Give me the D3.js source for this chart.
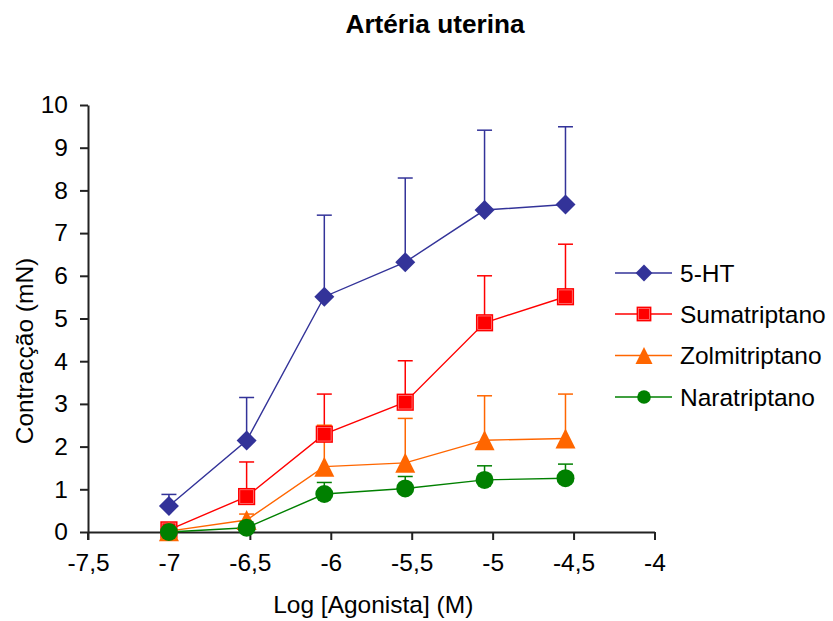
<!DOCTYPE html>
<html>
<head>
<meta charset="utf-8">
<script src="https://cdn.jsdelivr.net/npm/d3@7/dist/d3.min.js"></script>
<style>
  html, body { margin: 0; padding: 0; background: #fff; }
  svg { display: block; font-family: "Liberation Sans", Arial, sans-serif; }
</style>
</head>
<body>
<svg id="chart" width="833" height="621"></svg>
<script>
// Log concentration of agonist (M)
const logDose = [-7, -6.52, -6.04, -5.54, -5.05, -4.55];

// Mean contraction (mN) and error (SEM, upward bars only)
const ht5 = [0.61, 2.14, 5.51, 6.32, 7.54, 7.67];
const ht5Err = [0.27, 1.01, 1.91, 1.97, 1.87, 1.82];

const sumatriptano = [0.05, 0.83, 2.29, 3.04, 4.90, 5.51];
const sumatriptanoErr = [0.05, 0.81, 0.94, 0.97, 1.10, 1.23];

const zolmitriptano = [0.02, 0.28, 1.53, 1.62, 2.15, 2.19];
const zolmitriptanoErr = [0.03, 0.14, 0.97, 1.04, 1.04, 1.04];

const naratriptano = [0.00, 0.10, 0.89, 1.02, 1.22, 1.26];
const naratriptanoErr = [0.00, 0.02, 0.27, 0.28, 0.33, 0.33];

const seriesNames = ["5-HT", "Sumatriptano", "Zolmitriptano", "Naratriptano"];
const xTicks = [-7.5, -7, -6.5, -6, -5.5, -5, -4.5, -4];
const yTicks = [0, 1, 2, 3, 4, 5, 6, 7, 8, 9, 10];

const series = [
  { name: seriesNames[0], values: ht5, err: ht5Err, color: "#333399", shape: "diamond" },
  { name: seriesNames[1], values: sumatriptano, err: sumatriptanoErr, color: "#FF0000", shape: "square" },
  { name: seriesNames[2], values: zolmitriptano, err: zolmitriptanoErr, color: "#FF6600", shape: "triangle" },
  { name: seriesNames[3], values: naratriptano, err: naratriptanoErr, color: "#008000", shape: "circle" }
];

const svg = d3.select("#chart");
const x = d3.scaleLinear().domain([-7.5, -4]).range([88, 654.5]);
const y = d3.scaleLinear().domain([0, 10]).range([532, 105]);
const fmt = d => String(d).replace(".", ",");

// Title
svg.append("text")
  .attr("x", 435).attr("y", 33)
  .attr("text-anchor", "middle")
  .attr("font-size", 26.2).attr("font-weight", "bold")
  .attr("fill", "#000")
  .text("Artéria uterina");

// Axes
const xAxis = svg.append("g").attr("transform", `translate(0,${y(0)})`)
  .call(d3.axisBottom(x).tickValues(xTicks).tickFormat(fmt).tickSize(8).tickPadding(14).tickSizeOuter(0));
const yAxis = svg.append("g").attr("transform", `translate(${x(-7.5)},0)`)
  .call(d3.axisLeft(y).tickValues(yTicks).tickFormat(fmt).tickSize(8).tickPadding(12).tickSizeOuter(0));

[xAxis, yAxis].forEach(g => {
  g.select(".domain").attr("stroke", "#222").attr("stroke-width", 2);
  g.selectAll(".tick line").attr("stroke", "#222").attr("stroke-width", 2);
  g.selectAll(".tick text").attr("font-size", 24.5).attr("fill", "#000")
    .attr("font-family", "'Liberation Sans', Arial, sans-serif");
});
// y axis extends down through the baseline like a tick
yAxis.append("line").attr("x1", 0).attr("x2", 0).attr("y1", y(0)).attr("y2", y(0) + 8)
  .attr("stroke", "#222").attr("stroke-width", 2);

// Axis titles
svg.append("text")
  .attr("x", (x(-7.5) + x(-4)) / 2 + 2).attr("y", 613)
  .attr("text-anchor", "middle").attr("font-size", 24.5).attr("fill", "#000")
  .text("Log [Agonista] (M)");
svg.append("text")
  .attr("transform", `translate(33,351) rotate(-90)`)
  .attr("text-anchor", "middle").attr("font-size", 24.5).attr("fill", "#000")
  .text("Contracção (mN)");

// Marker shapes
function marker(sel, shape, color, s) {
  if (shape === "diamond") {
    sel.append("path").attr("d", `M0,${-s}L${s},0L0,${s}L${-s},0Z`).attr("fill", color);
  } else if (shape === "square") {
    sel.append("rect").attr("x", -s).attr("y", -s).attr("width", 2 * s).attr("height", 2 * s).attr("fill", color);
    sel.append("rect").attr("x", -s + 1.8).attr("y", -s + 1.8).attr("width", 2 * s - 3.6).attr("height", 2 * s - 3.6)
      .attr("fill", "none").attr("stroke", "#fff").attr("stroke-width", 0.7).attr("opacity", 0.55);
  } else if (shape === "triangle") {
    sel.append("path").attr("d", `M0,${-s}L${s},${s}L${-s},${s}Z`).attr("fill", color);
  } else {
    sel.append("circle").attr("r", s).attr("fill", color);
  }
}
const markerSize = { diamond: 10, square: 8.6, triangle: 10, circle: 9 };
const legendSize = { diamond: 8.4, square: 7.4, triangle: 8.5, circle: 6.8 };

const plot = svg.append("g");

// Error bars
series.forEach(s => {
  const g = plot.append("g");
  s.values.forEach((v, i) => {
    const top = v + s.err[i];
    if (s.err[i] <= 0) return;
    g.append("line").attr("x1", x(logDose[i])).attr("x2", x(logDose[i]))
      .attr("y1", y(v)).attr("y2", y(top)).attr("stroke", s.color).attr("stroke-width", 1.5);
    g.append("line").attr("x1", x(logDose[i]) - 7.5).attr("x2", x(logDose[i]) + 7.5)
      .attr("y1", y(top)).attr("y2", y(top)).attr("stroke", s.color).attr("stroke-width", 1.5);
  });
});

// Lines
const line = d3.line().x((d, i) => x(logDose[i])).y(d => y(d));
series.forEach(s => {
  plot.append("path").datum(s.values).attr("d", line)
    .attr("fill", "none").attr("stroke", s.color).attr("stroke-width", 1.4);
});

// Markers
series.forEach(s => {
  s.values.forEach((v, i) => {
    const g = plot.append("g").attr("transform", `translate(${x(logDose[i])},${y(v)})`);
    marker(g, s.shape, s.color, markerSize[s.shape]);
  });
});

// Legend
const legendY = [273, 314, 355.5, 397];
series.forEach((s, k) => {
  const g = svg.append("g").attr("transform", `translate(0,${legendY[k]})`);
  g.append("line").attr("x1", 615).attr("x2", 672).attr("y1", 0).attr("y2", 0)
    .attr("stroke", s.color).attr("stroke-width", 1.4);
  const m = g.append("g").attr("transform", "translate(644,0)");
  marker(m, s.shape, s.color, legendSize[s.shape]);
  g.append("text").attr("x", 680).attr("y", 0).attr("dy", "0.35em")
    .attr("font-size", 24.5).attr("fill", "#000").text(s.name);
});
</script>
</body>
</html>
